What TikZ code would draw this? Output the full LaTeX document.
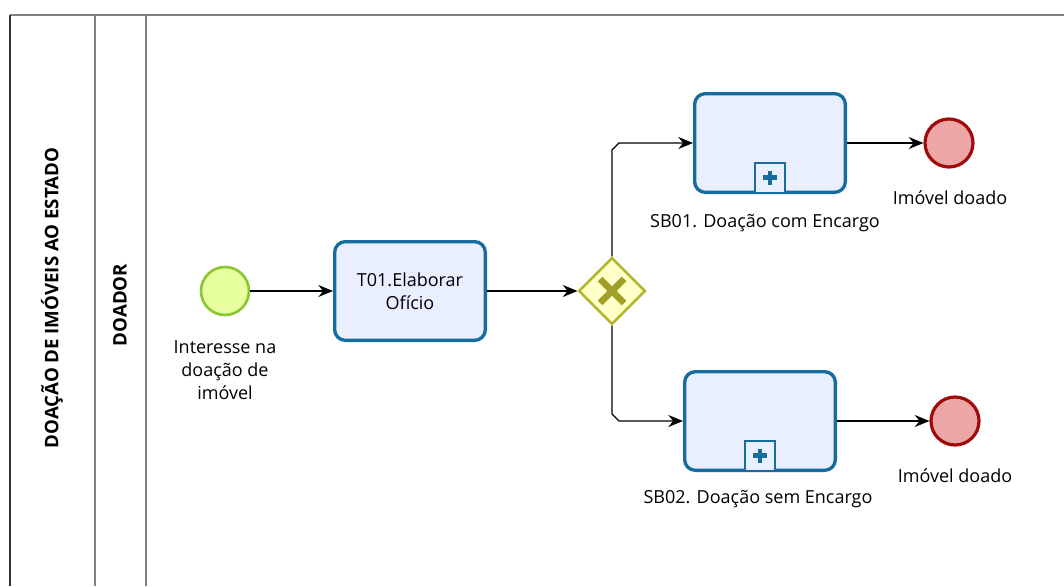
\documentclass[tikz,border=0pt]{standalone}
\usepackage{fontspec}
\setmainfont{Open Sans}
\usetikzlibrary{shapes.geometric, arrows.meta, calc}
\definecolor{taskblue}{RGB}{22,108,156}
\definecolor{taskfill}{RGB}{233,239,255}
\definecolor{startline}{RGB}{140,198,50}
\definecolor{startfill}{RGB}{232,255,160}
\definecolor{endline}{RGB}{160,10,10}
\definecolor{endfill}{RGB}{236,166,166}
\definecolor{gateline}{RGB}{180,180,40}
\definecolor{gatefill}{RGB}{255,255,200}
\definecolor{gatemark}{RGB}{160,160,40}
\definecolor{poolline}{RGB}{130,130,130}

\begin{document}
\begin{tikzpicture}[
        x=0.75pt, y=-0.75pt,
        every node/.style={font=\fontsize{13.5}{17}\selectfont, align=center},
        task/.style={draw=taskblue, fill=taskfill, line width=2.5pt, rounded corners=8pt, minimum width=113pt, minimum height=74pt, inner sep=0pt},
        startev/.style={circle, draw=startline, fill=startfill, line width=2pt, minimum size=36pt, inner sep=0pt},
        endev/.style={circle, draw=endline, fill=endfill, line width=2.4pt, minimum size=36pt, inner sep=0pt},
        gateway/.style={diamond, draw=gateline, fill=gatefill, line width=1.8pt, minimum size=50pt, inner sep=0pt},
        marker/.style={draw=taskblue, fill=taskfill, line width=1.8pt, minimum size=22.5pt, inner sep=0pt},
        flow/.style={-{Stealth[length=11pt, width=9pt]}, line width=1pt},
        lane/.style={draw=poolline, line width=1.5pt}
    ]
        \useasboundingbox (0,0) rectangle (1064,586);
        \draw[lane] (10,15) -- (1064,15);
        \draw[lane] (95,15) -- (95,586);
        \draw[lane] (146,15) -- (146,586);
        \draw[black!80, line width=1.5pt] (10,15) -- (10,586);
        \node[rotate=90, font=\bfseries\fontsize{14}{16}\selectfont] (pool) at (52,298) {DOAÇÃO DE IMÓVEIS AO ESTADO};
        \node[rotate=90, font=\bfseries\fontsize{14}{16}\selectfont] (lane) at (120,305) {DOADOR};

        \node[startev]  (start) at (225,291) {};
        \node[task]     (t01)   at (410,291) {T01.Elaborar\\ Ofício};
        \node[gateway]  (gw)    at (612,291) {};
        \node[task]     (sb1)   at (770,143) {};
        \node[task]     (sb2)   at (760,421) {};
        \node[endev]    (end1)  at (949,143) {};
        \node[endev]    (end2)  at (955,421) {};
        \node[marker, anchor=south] (m1) at (sb1.south) {};
        \node[marker, anchor=south] (m2) at (sb2.south) {};

        \node (lstart) at (225,370) {Interesse na\\ doação de\\ imóvel};
        \node (lsb1)   at (765,223) {SB01. Doação com Encargo};
        \node (lend1)  at (950,198) {Imóvel doado};
        \node (lsb2)   at (758,499) {SB02. Doação sem Encargo};
        \node (lend2)  at (955,476) {Imóvel doado};

        \draw[gatemark, line width=4.8pt] ($(gw)+(-12,-12)$) -- ($(gw)+(12,12)$);
        \draw[gatemark, line width=4.8pt] ($(gw)+(-12,12)$) -- ($(gw)+(12,-12)$);
        \draw[taskblue, line width=3.5pt] ($(m1)+(-7,0)$) -- ($(m1)+(7,0)$);
        \draw[taskblue, line width=3.5pt] ($(m1)+(0,-7)$) -- ($(m1)+(0,7)$);
        \draw[taskblue, line width=3.5pt] ($(m2)+(-7,0)$) -- ($(m2)+(7,0)$);
        \draw[taskblue, line width=3.5pt] ($(m2)+(0,-7)$) -- ($(m2)+(0,7)$);

        \draw[flow] (start) -- (t01);
        \draw[flow] (t01) -- (gw);
        \draw[flow] (gw.north) -- ($(gw.north |- sb1.west)+(0,7)$) -- ($(gw.north |- sb1.west)+(7,0)$) -- (sb1.west);
        \draw[flow] (gw.south) -- ($(gw.south |- sb2.west)+(0,-7)$) -- ($(gw.south |- sb2.west)+(7,0)$) -- (sb2.west);
        \draw[flow] (sb1) -- (end1);
        \draw[flow] (sb2) -- (end2);
    \end{tikzpicture}
\end{document}
